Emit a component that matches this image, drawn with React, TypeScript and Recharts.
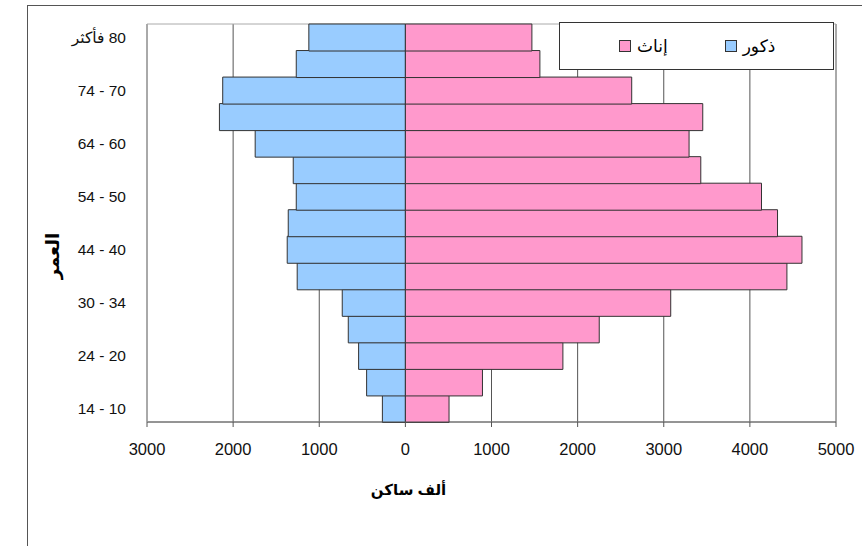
import React from 'react';
import { BarChart, Bar, XAxis, YAxis, CartesianGrid, Legend, ReferenceArea } from 'recharts';

const ageGroups = ['10-14', '15-19', '20-24', '25-29', '30-34', '35-39', '40-44', '45-49', '50-54', '55-59', '60-64', '65-69', '70-74', '75-79', '80+'];
const ageTickLabels = ['14 - 10', '', '24 - 20', '', '30 - 34', '', '44 - 40', '', '54 - 50', '', '64 - 60', '', '74 - 70', '', 'فأكثر\u200E 80'];
const males = [267, 450, 543, 663, 733, 1256, 1372, 1360, 1267, 1302, 1744, 2159, 2121, 1267, 1121];
const females = [507, 895, 1829, 2251, 3081, 4430, 4605, 4321, 4135, 3430, 3294, 3453, 2628, 1562, 1469];
const xTicks = [-3000, -2000, -1000, 0, 1000, 2000, 3000, 4000, 5000];

const maleName = 'ذكور';
const femaleName = 'إناث';
const maleColor = '#99CCFF';
const femaleColor = '#FF99CC';

const data = ageGroups.map((age, i) => ({
  age,
  label: ageTickLabels[i],
  male: -males[i],
  female: females[i],
}));

const font = '"Liberation Sans", Arial, "DejaVu Sans", sans-serif';

const LegendBox = () => {
  const items = [
    { name: femaleName, color: femaleColor },
    { name: maleName, color: maleColor },
  ];
  return (
    <div
      style={{
        boxSizing: 'border-box',
        width: 275,
        height: 48,
        border: '1px solid #333',
        background: '#fff',
        display: 'flex',
        alignItems: 'center',
        paddingLeft: 59,
        fontFamily: font,
        fontSize: 17,
        color: '#000',
      }}
    >
      {items.map((it, i) => (
        <div key={it.name} style={{ display: 'flex', alignItems: 'center', marginRight: i === 0 ? 57 : 0 }}>
          <span
            style={{
              display: 'inline-block',
              boxSizing: 'border-box',
              width: 12,
              height: 12,
              background: it.color,
              border: '1px solid #333',
              marginRight: 6,
            }}
          />
          <span>{it.name}</span>
        </div>
      ))}
    </div>
  );
};

export default function App() {
  return (
    <div style={{ position: 'absolute', left: 0, top: 0, width: 862, height: 546, overflow: 'hidden', background: '#fff' }}>
      <div
        style={{
          position: 'absolute',
          left: 27,
          top: 5,
          width: 900,
          height: 600,
          borderTop: '1px solid #555',
          borderLeft: '1px solid #555',
        }}
      />
      <BarChart
        width={862}
        height={546}
        data={data}
        layout="vertical"
        stackOffset="sign"
        barCategoryGap={0}
        margin={{ top: 24, right: 26, bottom: 64, left: 27 }}
        style={{ position: 'absolute', left: 0, top: 0 }}
      >
        <CartesianGrid horizontal={false} vertical={true} stroke="#555" strokeWidth={1} />
        <XAxis
          type="number"
          domain={[-3000, 5000]}
          ticks={xTicks}
          tickFormatter={(v: number) => String(Math.abs(v))}
          height={60}
          tickSize={5}
          tickMargin={16}
          axisLine={{ stroke: '#555' }}
          tickLine={{ stroke: '#555' }}
          tick={{ fontSize: 16.5, fill: '#111', fontFamily: font }}
          interval={0}
          label={{ value: 'ألف ساكن', position: 'center', dx: -83, dy: 38, fontSize: 15, fontWeight: 'bold', fill: '#000', fontFamily: font }}
        />
        <YAxis
          type="category"
          dataKey="label"
          reversed
          width={120}
          interval={0}
          tickSize={0}
          tickMargin={21}
          tickLine={false}
          axisLine={{ stroke: '#aaa' }}
          tick={{ fontSize: 15.5, fill: '#111', fontFamily: font }}
          label={{ value: 'العمر', angle: -90, position: 'center', dx: -34, dy: 33, fontSize: 18, fontWeight: 'bold', fill: '#000', fontFamily: font }}
        />
        <ReferenceArea x1={-3000} x2={5000} fill="none" stroke="#aaa" strokeWidth={1} />
        <Legend
          layout="horizontal"
          verticalAlign="middle"
          align="center"
          content={() => <LegendBox />}
          wrapperStyle={{ left: 559, top: 22, width: 275, height: 48 }}
        />
        <Bar dataKey="male" name={maleName} stackId="a" fill={maleColor} stroke="#333" strokeWidth={1} isAnimationActive={false} />
        <Bar dataKey="female" name={femaleName} stackId="a" fill={femaleColor} stroke="#333" strokeWidth={1} isAnimationActive={false} />
      </BarChart>
    </div>
  );
}
